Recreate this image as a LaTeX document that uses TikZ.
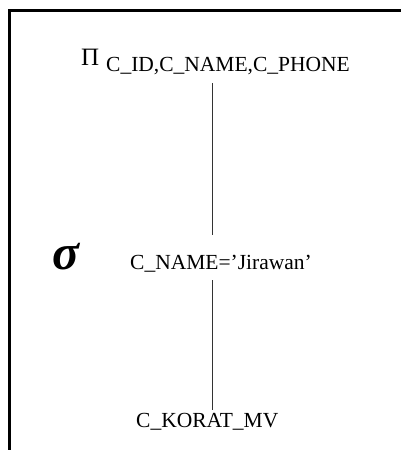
\documentclass[tikz,border=0pt]{standalone}
\usepackage{fontspec}
\setmainfont{Liberation Serif}
\begin{document}
\begin{tikzpicture}[x=1pt,y=-1pt,
  lbl/.style={inner sep=0pt,anchor=base west,font=\fontsize{21.5}{24}\selectfont},
  opsym/.style={inner sep=0pt,anchor=base west},
  edge/.style={line width=1pt,black!80}]
  \useasboundingbox (0,0) rectangle (401,450);
  % open frame: top and left borders
  \draw[line width=3pt] (9.5,452) -- (9.5,10.5) -- (403,10.5);
  % projection
  \node[opsym,font=\fontsize{25}{28}\selectfont] (pi) at (81,65) {Π};
  \node[lbl] (proj) at (106,71) {C\_ID,C\_NAME,C\_PHONE};
  % selection
  \node[opsym,font=\fontsize{50}{54}\selectfont\bfseries\itshape] (sigma) at (52,269) {σ};
  \node[lbl] (sel) at (130,269) {C\_NAME=’Jirawan’};
  % relation
  \node[lbl] (rel) at (136,427) {C\_KORAT\_MV};
  % tree edges
  \coordinate (projbot) at (212,83);
  \coordinate (seltop) at (212,235);
  \coordinate (selbot) at (212,280);
  \coordinate (reltop) at (212,410);
  \draw[edge] (projbot) -- (seltop);
  \draw[edge] (selbot) -- (reltop);
\end{tikzpicture}
\end{document}
